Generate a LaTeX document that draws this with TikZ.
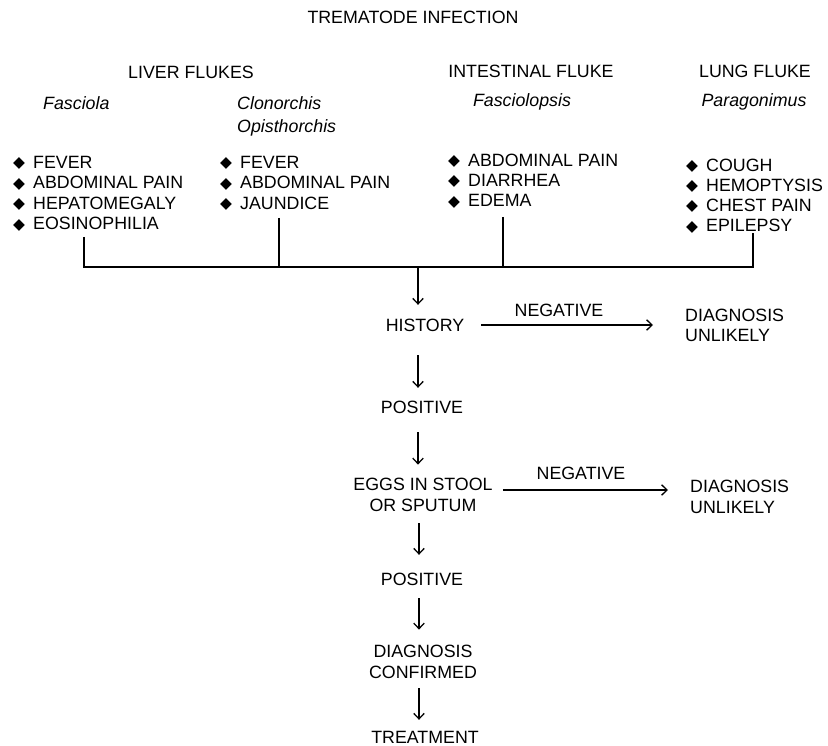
\documentclass[tikz,border=0pt]{standalone}
\usepackage{fontspec}
\setmainfont{Liberation Sans}
\newfontfamily\dejavu{DejaVu Sans}
\usetikzlibrary{arrows.meta}
\newcommand\fsz{\fontsize{17.8}{20.6}\selectfont}
\newcommand\bul{\makebox[20pt][l]{\raisebox{0.6pt}{\dejavu\fontsize{15.5}{15.5}\selectfont ◆}}}
\begin{document}
\begin{tikzpicture}[x=1pt,y=-1pt,
  font=\fsz,
  every node/.style={inner sep=0pt},
  lbl/.style={text height=12.8pt, text depth=0pt},
  it/.style={font=\fsz\itshape},
  lst/.style={align=left, anchor=north west},
  lst2/.style={align=left, anchor=north west, font=\fontsize{17.8}{20.2}\selectfont},
  two/.style={align=center},
  twol/.style={align=left, anchor=west},
  arr/.style={-{Straight Barb[length=5.5pt,width=10.5pt]}, line width=1.3pt},
  ln/.style={line width=1.3pt}]
\useasboundingbox (0,0) rectangle (828,746);
\fill[white] (0,0) rectangle (828,746);

% headings
\node[lbl] (title) at (413,17) {TREMATODE INFECTION};
\node[lbl] (liver) at (191,72) {LIVER FLUKES};
\node[lbl] (intest) at (531,71) {INTESTINAL FLUKE};
\node[lbl] (lung) at (755,71) {LUNG FLUKE};
\node[lbl,it,anchor=west] (fasciola) at (43,103) {Fasciola};
\node[align=left,anchor=north west,font=\fontsize{17.8}{23}\selectfont\itshape] (clon) at (237,96.6) {Clonorchis\\Opisthorchis};
\node[lbl,it] (fpsis) at (522,100) {Fasciolopsis};
\node[lbl,it] (parag) at (754,100) {Paragonimus};

% symptom lists
\node[lst] (s1) at (13,155.6) {\bul FEVER\\\bul ABDOMINAL PAIN\\\bul HEPATOMEGALY\\\bul EOSINOPHILIA};
\node[lst] (s2) at (220,155.6) {\bul FEVER\\\bul ABDOMINAL PAIN\\\bul JAUNDICE};
\node[lst2] (s3) at (448,153.6) {\bul ABDOMINAL PAIN\\\bul DIARRHEA\\\bul EDEMA};
\node[lst2] (s4) at (686,158.4) {\bul COUGH\\\bul HEMOPTYSIS\\\bul CHEST PAIN\\\bul EPILEPSY};

% bus
\coordinate (d1) at (84,237);
\coordinate (d2) at (279,218);
\coordinate (d3) at (503,217);
\coordinate (d4) at (753,233);
\coordinate (b1) at (84,267);
\coordinate (b4) at (753,267);
\coordinate (bm) at (418,267);
\coordinate (ax) at (419,0);
\draw[ln] (d1) -- (b1) -- (b4) -- (d4);
\draw[ln] (d2) -- (d2 |- b1);
\draw[ln] (d3) -- (d3 |- b1);

% flow
\node[lbl] (hist) at (425,325) {HISTORY};
\node[lbl] (pos1) at (422,407) {POSITIVE};
\node[two] (eggs) at (423,495) {EGGS IN STOOL\\OR SPUTUM};
\node[lbl] (pos2) at (422,579) {POSITIVE};
\node[two] (conf) at (423,662) {DIAGNOSIS\\CONFIRMED};
\node[lbl] (treat) at (425,737) {TREATMENT};
\node[twol] (un1) at (685,325.5) {DIAGNOSIS\\UNLIKELY};
\node[twol] (un2) at (690,497) {DIAGNOSIS\\UNLIKELY};
\node[lbl] (neg1) at (559,310) {NEGATIVE};
\node[lbl] (neg2) at (581,473) {NEGATIVE};

\draw[arr, shorten >=13.6pt] (bm) -- (bm |- hist.north);
\draw[arr, shorten <=23.6pt, shorten >=12.6pt] (hist.south -| bm) -- (pos1.north -| bm);
\draw[arr, shorten <=18.6pt, shorten >=13.6pt] (pos1.south -| bm) -- (eggs.north -| bm);
\draw[arr, shorten <=11.6pt, shorten >=17.6pt] (eggs.south -| ax) -- (pos2.north -| ax);
\draw[arr, shorten <=12.6pt, shorten >=15.6pt] (pos2.south -| ax) -- (conf.north -| ax);
\draw[arr, shorten <=9.6pt, shorten >=10.6pt] (conf.south -| ax) -- (treat.north -| ax);
\draw[arr, shorten <=17pt, shorten >=32pt] (hist.east) -- (hist.east -| un1.west);
\draw[arr, shorten <=10pt, shorten >=22pt] (eggs.east |- 0,490) -- (un2.west |- 0,490);
\end{tikzpicture}
\end{document}
